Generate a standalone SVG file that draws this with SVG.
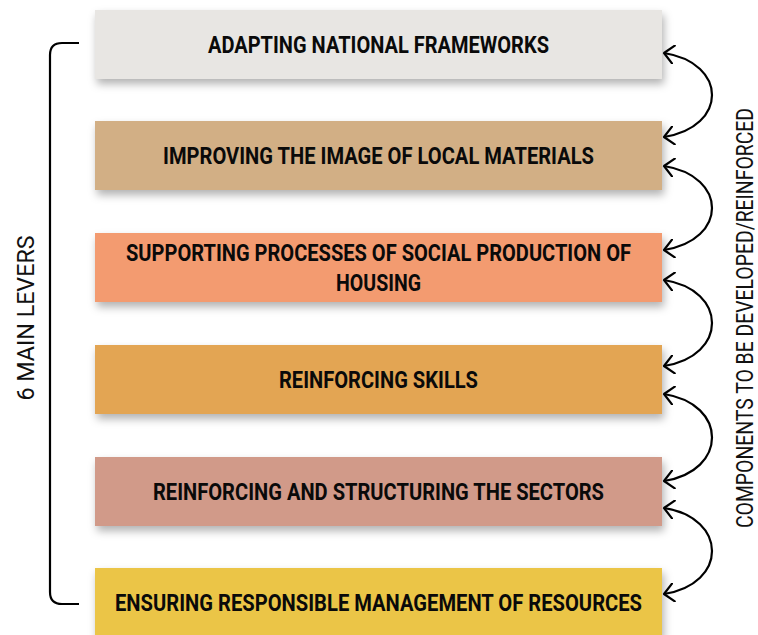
<svg xmlns="http://www.w3.org/2000/svg" width="758" height="635" viewBox="0 0 758 635">
  <style>
    .box { filter: url(#shadow); }
    .lbl { font-family: Roboto, "Liberation Sans", sans-serif; font-weight: 700; font-size: 23px; fill: #0a0a0a; text-anchor: middle; }
    .side { font-family: Roboto, "Liberation Sans", sans-serif; font-weight: 400; font-size: 24px; fill: #111; text-anchor: middle; }
    .arc { fill: none; stroke: #000; stroke-width: 2.2; marker-start: url(#chev); marker-end: url(#chev); }
    .brk { fill: none; stroke: #000; stroke-width: 2.2; }
  </style>
  <defs>
    <filter id="shadow" x="-5%" y="-20%" width="115%" height="160%">
      <feDropShadow dx="2" dy="5" stdDeviation="4" flood-color="#000" flood-opacity="0.3"/>
    </filter>
    <marker id="chev" viewBox="0 0 12 20" refX="10.5" refY="10" markerWidth="12" markerHeight="20" markerUnits="userSpaceOnUse" orient="auto-start-reverse">
      <path d="M1,1 L10.5,10 L1,19" fill="none" stroke="#000" stroke-width="2.2" stroke-linecap="round" stroke-linejoin="round"/>
    </marker>
  </defs>
  <rect width="758" height="635" fill="#fff"/>

  <g id="node1">
    <rect class="box" x="95" y="10" width="567" height="69" fill="#E8E6E3"/>
    <text class="lbl" x="378.5" y="53" textLength="341" lengthAdjust="spacingAndGlyphs">ADAPTING NATIONAL FRAMEWORKS</text>
  </g>
  <g id="node2">
    <rect class="box" x="95" y="121" width="567" height="69" fill="#D2AF85"/>
    <text class="lbl" x="378.5" y="164" textLength="431" lengthAdjust="spacingAndGlyphs">IMPROVING THE IMAGE OF LOCAL MATERIALS</text>
  </g>
  <g id="node3">
    <rect class="box" x="95" y="233" width="567" height="69" fill="#F39B70"/>
    <text class="lbl" x="378.5" y="261" textLength="505" lengthAdjust="spacingAndGlyphs">SUPPORTING PROCESSES OF SOCIAL PRODUCTION OF</text>
    <text class="lbl" x="378.5" y="291" textLength="85" lengthAdjust="spacingAndGlyphs">HOUSING</text>
  </g>
  <g id="node4">
    <rect class="box" x="95" y="345" width="567" height="69" fill="#E3A552"/>
    <text class="lbl" x="378.5" y="388" textLength="199" lengthAdjust="spacingAndGlyphs">REINFORCING SKILLS</text>
  </g>
  <g id="node5">
    <rect class="box" x="95" y="457" width="567" height="69" fill="#D19A89"/>
    <text class="lbl" x="378.5" y="500" textLength="451" lengthAdjust="spacingAndGlyphs">REINFORCING AND STRUCTURING THE SECTORS</text>
  </g>
  <g id="node6">
    <rect class="box" x="95" y="568" width="567" height="69" fill="#EBC547"/>
    <text class="lbl" x="378.5" y="611" textLength="527" lengthAdjust="spacingAndGlyphs">ENSURING RESPONSIBLE MANAGEMENT OF RESOURCES</text>
  </g>

  <g id="bracket">
    <path class="brk" d="M79,43 H62 Q50,43 50,55 V592 Q50,604 62,604 H79"/>
    <text class="side" transform="translate(34,318) rotate(-90)" textLength="165" lengthAdjust="spacingAndGlyphs">6 MAIN LEVERS</text>
  </g>

  <g id="connectors">
    <path class="arc" d="M664,53 C728,63 728,127 664,137"/>
    <path class="arc" d="M664,166 C728,176 728,240 664,250"/>
    <path class="arc" d="M664,280 C728,290 728,356 664,366"/>
    <path class="arc" d="M664,394 C728,404 728,471 664,481"/>
    <path class="arc" d="M664,508 C728,518 728,584 664,594"/>
  </g>

  <g id="side-label">
    <text class="side" style="font-size:23px" transform="translate(753,318) rotate(-90)" textLength="420" lengthAdjust="spacingAndGlyphs">COMPONENTS TO BE DEVELOPED/REINFORCED</text>
  </g>
</svg>
